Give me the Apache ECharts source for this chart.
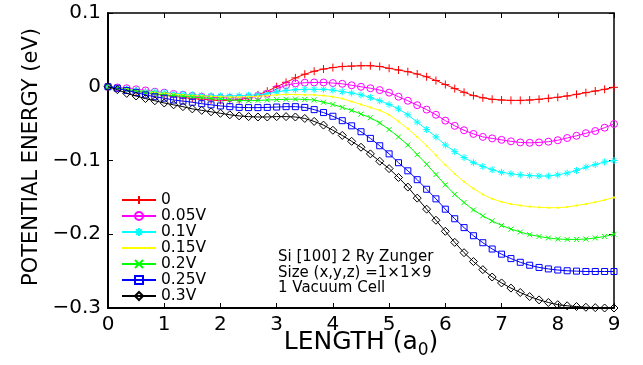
<!DOCTYPE html>
<html>
<head>
<meta charset="utf-8">
<script src="https://cdn.jsdelivr.net/npm/echarts@6/dist/echarts.min.js"></script>
<style>
  html, body { margin: 0; padding: 0; background: #fff; }
  #chart { width: 643px; height: 365px; }
</style>
</head>
<body>
<div id="chart"></div>
<script>
// x positions (a0), one sample every 1/6
const xs = [0, 0.167, 0.333, 0.5, 0.667, 0.833, 1, 1.167, 1.333, 1.5, 1.667, 1.833,
  2, 2.167, 2.333, 2.5, 2.667, 2.833, 3, 3.167, 3.333, 3.5, 3.667, 3.833,
  4, 4.167, 4.333, 4.5, 4.667, 4.833, 5, 5.167, 5.333, 5.5, 5.667, 5.833,
  6, 6.167, 6.333, 6.5, 6.667, 6.833, 7, 7.167, 7.333, 7.5, 7.667, 7.833,
  8, 8.167, 8.333, 8.5, 8.667, 8.833, 9];

const v0 = [0, -0.002, -0.004, -0.006, -0.008, -0.010, -0.0115, -0.013, -0.0145, -0.016, -0.017, -0.018,
  -0.0185, -0.0185, -0.0175, -0.015, -0.011, -0.006, 0.0, 0.006, 0.012, 0.017, 0.021, 0.024,
  0.026, 0.0275, 0.028, 0.0285, 0.0285, 0.0275, 0.025, 0.0227, 0.0204, 0.0173, 0.0135, 0.0085,
  0.003, -0.0025, -0.0075, -0.012, -0.015, -0.017, -0.018, -0.0185, -0.0185, -0.018, -0.017, -0.0157,
  -0.0143, -0.0125, -0.0103, -0.008, -0.0058, -0.0035, -0.0008];

const v005 = [0, -0.001, -0.002, -0.0035, -0.005, -0.0067, -0.008, -0.0098, -0.011, -0.0125, -0.0135, -0.0143,
  -0.0148, -0.015, -0.015, -0.0145, -0.0125, -0.0095, -0.003, 0.002, 0.0045, 0.0055, 0.0058, 0.0058,
  0.005, 0.004, 0.002, 0.0, -0.002, -0.0045, -0.008, -0.0135, -0.019, -0.025, -0.031, -0.038,
  -0.046, -0.053, -0.059, -0.064, -0.068, -0.070, -0.072, -0.074, -0.0755, -0.076, -0.0755, -0.0745,
  -0.0725, -0.0695, -0.0665, -0.063, -0.060, -0.0555, -0.0505];

const v01 = [0, -0.0015, -0.003, -0.0045, -0.006, -0.007, -0.008, -0.009, -0.010, -0.011, -0.0115, -0.012,
  -0.0125, -0.0125, -0.012, -0.0115, -0.011, -0.0095, -0.007, -0.005, -0.004, -0.0035, -0.0035, -0.0035,
  -0.0045, -0.0067, -0.0085, -0.011, -0.0145, -0.019, -0.024, -0.030, -0.038, -0.048, -0.058, -0.068,
  -0.079, -0.088, -0.096, -0.103, -0.108, -0.1125, -0.116, -0.118, -0.1195, -0.1205, -0.121, -0.121,
  -0.1195, -0.117, -0.1135, -0.109, -0.1055, -0.102, -0.100];

const v015 = [0, -0.002, -0.0035, -0.005, -0.0065, -0.008, -0.009, -0.010, -0.011, -0.012, -0.0125, -0.013,
  -0.0135, -0.014, -0.014, -0.0135, -0.013, -0.012, -0.011, -0.0105, -0.0105, -0.011, -0.011, -0.012,
  -0.0135, -0.016, -0.020, -0.024, -0.028, -0.032, -0.038, -0.047, -0.057, -0.068, -0.080, -0.093,
  -0.106, -0.118, -0.129, -0.138, -0.146, -0.152, -0.156, -0.159, -0.161, -0.1625, -0.1635, -0.164,
  -0.164, -0.163, -0.161, -0.159, -0.1565, -0.1535, -0.150];

const v02 = [0, -0.002, -0.004, -0.006, -0.008, -0.0095, -0.011, -0.012, -0.013, -0.014, -0.015, -0.016,
  -0.017, -0.018, -0.0185, -0.019, -0.0185, -0.018, -0.0175, -0.017, -0.0168, -0.0172, -0.018, -0.021,
  -0.024, -0.028, -0.032, -0.037, -0.042, -0.049, -0.058, -0.068, -0.079, -0.092, -0.105, -0.119,
  -0.133, -0.146, -0.157, -0.167, -0.175, -0.182, -0.188, -0.193, -0.197, -0.2005, -0.203, -0.205,
  -0.2065, -0.207, -0.207, -0.2065, -0.205, -0.203, -0.200];

const v025 = [0, -0.002, -0.005, -0.008, -0.011, -0.0135, -0.0155, -0.018, -0.0195, -0.021, -0.023, -0.0245,
  -0.026, -0.027, -0.028, -0.0283, -0.0283, -0.028, -0.0275, -0.027, -0.027, -0.028, -0.031, -0.035,
  -0.040, -0.046, -0.053, -0.061, -0.070, -0.080, -0.091, -0.103, -0.114, -0.126, -0.139, -0.152,
  -0.166, -0.179, -0.191, -0.202, -0.2115, -0.220, -0.227, -0.233, -0.238, -0.242, -0.245, -0.247,
  -0.2485, -0.2495, -0.250, -0.2505, -0.2505, -0.2505, -0.2505];

const v03 = [0, -0.004, -0.009, -0.0125, -0.016, -0.019, -0.022, -0.0245, -0.027, -0.030, -0.032, -0.034,
  -0.036, -0.038, -0.0395, -0.0405, -0.041, -0.041, -0.0405, -0.0405, -0.041, -0.043, -0.047, -0.052,
  -0.059, -0.066, -0.074, -0.082, -0.091, -0.101, -0.111, -0.123, -0.136, -0.151, -0.166, -0.181,
  -0.196, -0.211, -0.225, -0.237, -0.248, -0.258, -0.266, -0.273, -0.279, -0.2845, -0.289, -0.2925,
  -0.2955, -0.297, -0.298, -0.299, -0.2995, -0.300, -0.300];

const seriesNames = ['0', '0.05V', '0.1V', '0.15V', '0.2V', '0.25V', '0.3V'];
const seriesValues = [v0, v005, v01, v015, v02, v025, v03];

const xTickLabels = ['0', '1', '2', '3', '4', '5', '6', '7', '8', '9'];
const yTickValues = [-0.3, -0.2, -0.1, 0, 0.1];
const yTickLabels = ['\u22120.3', '\u22120.2', '\u22120.1', '0', '0.1'];

const notes = ['Si [100] 2 Ry Zunger', 'Size (x,y,z) =1\u00d71\u00d79', '1 Vacuum Cell'];

// marker look per series (MATLAB style: + o * . x s d)
const looks = [
  { color: '#ff0000', symbol: 'path://M5,0L5,10M0,5L10,5', size: 8, hollow: true },
  { color: '#ff00ff', symbol: 'circle', size: 7, hollow: true },
  { color: '#00ffff', symbol: 'path://M5,0L5,10M0,5L10,5M1.5,1.5L8.5,8.5M1.5,8.5L8.5,1.5', size: 7, hollow: true },
  { color: '#ffff00', symbol: 'path://M0,0M10,10M4,4L6,4L6,6L4,6Z', size: 10, hollow: false },
  { color: '#00ff00', symbol: 'path://M0,0L10,10M0,10L10,0', size: 5, hollow: true },
  { color: '#0000ff', symbol: 'rect', size: 6, hollow: true },
  { color: '#000000', symbol: 'diamond', size: 8, hollow: true }
];

const FONT = 'DejaVu Sans';

const chart = echarts.init(document.getElementById('chart'), null, { renderer: 'canvas' });

const series = seriesNames.map((name, k) => {
  const lk = looks[k];
  return {
    name: name,
    type: 'line',
    data: xs.map((x, i) => [x, seriesValues[k][i]]),
    symbol: lk.symbol,
    symbolSize: lk.size,
    showSymbol: true,
    clip: false,
    lineStyle: { color: lk.color, width: 1 },
    itemStyle: lk.hollow
      ? { color: 'rgba(0,0,0,0)', borderColor: lk.color, borderWidth: 1 }
      : { color: lk.color, borderWidth: 0 },
    emphasis: { disabled: true },
    z: 2 + k
  };
});

const yLabel = (v) => {
  for (let i = 0; i < yTickValues.length; i++) {
    if (Math.abs(v - yTickValues[i]) < 1e-6) return yTickLabels[i];
  }
  return '';
};

const option = {
  animation: false,
  backgroundColor: '#ffffff',
  grid: { left: 108, right: 29, top: 13, bottom: 57, containLabel: false },
  xAxis: [
    {
      type: 'value', min: 0, max: 9, interval: 1, position: 'bottom',
      axisLine: { show: true, onZero: false, lineStyle: { color: '#000', width: 2 } },
      axisTick: { show: true, inside: true, length: 5, lineStyle: { color: '#000' } },
      axisLabel: {
        margin: 7, color: '#000', fontFamily: FONT, fontSize: 20,
        formatter: (v) => xTickLabels[Math.round(v)] || ''
      },
      splitLine: { show: false }
    },
    {
      type: 'value', min: 0, max: 9, interval: 1, position: 'top',
      axisLine: { show: true, onZero: false, lineStyle: { color: '#000', width: 1.5 } },
      axisTick: { show: true, inside: true, length: 5, lineStyle: { color: '#000' } },
      axisLabel: { show: false },
      splitLine: { show: false }
    }
  ],
  yAxis: [
    {
      type: 'value', min: -0.3, max: 0.1, interval: 0.1, position: 'left',
      axisLine: { show: true, onZero: false, lineStyle: { color: '#000', width: 2 } },
      axisTick: { show: true, inside: true, length: 5, lineStyle: { color: '#000' } },
      axisLabel: { margin: 7, color: '#000', fontFamily: FONT, fontSize: 20, formatter: yLabel },
      splitLine: { show: false }
    },
    {
      type: 'value', min: -0.3, max: 0.1, interval: 0.1, position: 'right',
      axisLine: { show: true, onZero: false, lineStyle: { color: '#000', width: 1.5 } },
      axisTick: { show: true, inside: true, length: 5, lineStyle: { color: '#000' } },
      axisLabel: { show: false },
      splitLine: { show: false }
    }
  ],
  legend: {
    orient: 'vertical',
    left: 121,
    top: 192,
    padding: 0,
    itemGap: 0,
    itemWidth: 34,
    itemHeight: 10,
    data: seriesNames,
    textStyle: { color: '#000', fontFamily: FONT, fontSize: 15.5, lineHeight: 16 },
    selectedMode: false
  },
  graphic: [
    {
      type: 'text', x: 361, y: 342,
      style: {
        text: 'LENGTH (a{sub|0})',
        font: '25px "' + FONT + '"',
        fill: '#000',
        align: 'center',
        verticalAlign: 'middle',
        rich: { sub: { fontFamily: FONT, fontSize: 17, padding: [18, 0, 0, 0] } }
      }
    },
    {
      type: 'text', x: 32, y: 157, rotation: Math.PI / 2,
      style: {
        text: 'POTENTIAL ENERGY (eV)',
        font: '21px "' + FONT + '"',
        fill: '#000',
        align: 'center',
        verticalAlign: 'middle'
      }
    }
  ].concat(notes.map((t, i) => ({
    type: 'text', x: 278, y: 257 + i * 15.8,
    style: { text: t, font: '15px "' + FONT + '"', fill: '#000', align: 'left', verticalAlign: 'middle' }
  }))),
  series: series
};

chart.setOption(option);
</script>
</body>
</html>
